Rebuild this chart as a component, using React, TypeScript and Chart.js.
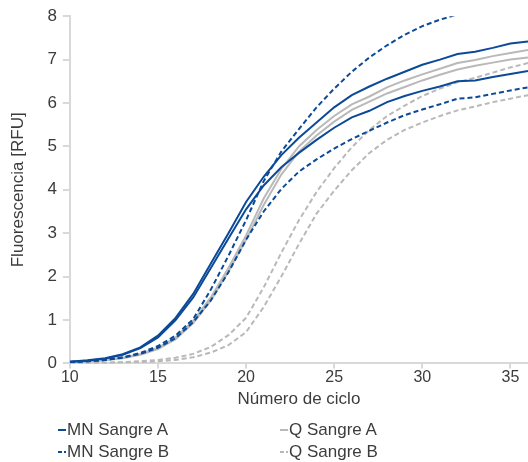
import React, { useEffect, useRef } from "react";
import { Chart, registerables } from "chart.js";

Chart.register(...registerables);

const cycles = [10, 11, 12, 13, 14, 15, 16, 17, 18, 19, 20, 21, 22, 23, 24, 25, 26, 27, 28, 29, 30, 31, 32, 33, 34, 35, 36];
const xTicks = [10, 15, 20, 25, 30, 35];
const yTicks = [0, 1, 2, 3, 4, 5, 6, 7, 8];

const mnA1 = [0.04, 0.07, 0.12, 0.21, 0.37, 0.64, 1.05, 1.6, 2.3, 3.0, 3.72, 4.3, 4.8, 5.2, 5.55, 5.9, 6.18, 6.38, 6.56, 6.72, 6.88, 7.0, 7.13, 7.18, 7.27, 7.37, 7.42];
const mnA2 = [0.04, 0.06, 0.11, 0.2, 0.35, 0.6, 1.0, 1.52, 2.2, 2.88, 3.55, 4.1, 4.52, 4.85, 5.15, 5.43, 5.67, 5.82, 6.02, 6.16, 6.28, 6.38, 6.5, 6.52, 6.6, 6.67, 6.74];
const mnB1 = [0.03, 0.05, 0.08, 0.14, 0.24, 0.4, 0.64, 1.02, 1.7, 2.48, 3.3, 4.2, 4.88, 5.4, 5.9, 6.33, 6.72, 7.05, 7.33, 7.57, 7.77, 7.92, 8.04, null, null, null, null];
const mnB2 = [0.03, 0.05, 0.08, 0.13, 0.22, 0.36, 0.58, 0.95, 1.45, 2.1, 2.85, 3.5, 4.02, 4.42, 4.7, 4.95, 5.17, 5.36, 5.55, 5.72, 5.85, 5.97, 6.1, 6.13, 6.21, 6.29, 6.36];
const qA1 = [0.03, 0.05, 0.08, 0.13, 0.22, 0.36, 0.6, 0.98, 1.52, 2.2, 2.95, 3.8, 4.48, 5.0, 5.38, 5.7, 5.97, 6.15, 6.36, 6.52, 6.66, 6.79, 6.92, 6.99, 7.08, 7.15, 7.22];
const qA2 = [0.03, 0.04, 0.07, 0.12, 0.2, 0.33, 0.56, 0.93, 1.45, 2.12, 2.85, 3.65, 4.35, 4.88, 5.25, 5.57, 5.84, 6.03, 6.22, 6.37, 6.52, 6.65, 6.77, 6.86, 6.93, 7.0, 7.05];
const qB1 = [0.0, 0.01, 0.02, 0.03, 0.05, 0.08, 0.13, 0.22, 0.38, 0.65, 1.05, 1.75, 2.55, 3.3, 3.95, 4.5, 4.98, 5.38, 5.7, 5.94, 6.16, 6.33, 6.48, 6.58, 6.7, 6.82, 6.92];
const qB2 = [0.0, 0.0, 0.01, 0.02, 0.03, 0.05, 0.08, 0.14, 0.25, 0.42, 0.72, 1.3, 2.0, 2.75, 3.45, 3.98, 4.45, 4.85, 5.15, 5.38, 5.55, 5.7, 5.83, 5.92, 6.02, 6.1, 6.18];

const BLUE = "#0c4a98";
const GRAY = "#b9b9b9";
const TEXT = "#3c3c3c";
const AXIS = "#d9d9d9";
const FONT = "'Liberation Sans', Arial, sans-serif";

const legendItems = [
  { label: "MN Sangre A", color: BLUE, dash: "", x: 58, y: 430 },
  { label: "Q Sangre A", color: GRAY, dash: "", x: 280, y: 430 },
  { label: "MN Sangre B", color: BLUE, dash: "4 2", x: 58, y: 452 },
  { label: "Q Sangre B", color: GRAY, dash: "4 2", x: 280, y: 452 },
];

function toPoints(values: (number | null)[]) {
  return cycles.map((c, i) => ({ x: c, y: values[i] }));
}

export default function App() {
  const ref = useRef<HTMLCanvasElement | null>(null);

  useEffect(() => {
    if (!ref.current) return;
    const mk = (label: string, data: (number | null)[], color: string, dashed: boolean) => ({
      label,
      data: toPoints(data),
      borderColor: color,
      backgroundColor: color,
      borderWidth: 2,
      borderDash: dashed ? [5, 3] : [],
      pointRadius: 0,
      tension: 0,
      fill: false,
      spanGaps: false,
    });
    const chart = new Chart(ref.current, {
      type: "line",
      data: {
        datasets: [
          mk("MN Sangre A", mnA1, BLUE, false),
          mk("MN Sangre A", mnA2, BLUE, false),
          mk("MN Sangre B", mnB1, BLUE, true),
          mk("MN Sangre B", mnB2, BLUE, true),
          mk("Q Sangre A", qA1, GRAY, false),
          mk("Q Sangre A", qA2, GRAY, false),
          mk("Q Sangre B", qB1, GRAY, true),
          mk("Q Sangre B", qB2, GRAY, true),
        ],
      },
      options: {
        responsive: false,
        animation: false,
        events: [],
        layout: { padding: { left: 4, right: 0, top: 15, bottom: 52 } },
        plugins: { legend: { display: false }, tooltip: { enabled: false } },
        scales: {
          x: {
            type: "linear",
            min: 10,
            max: 36,
            afterBuildTicks: (scale: any) => {
              scale.ticks = xTicks.map((v) => ({ value: v }));
            },
            grid: { drawOnChartArea: false, color: AXIS, tickLength: 5, lineWidth: 2 },
            border: { color: AXIS, width: 2 },
            ticks: { color: TEXT, font: { family: FONT, size: 16 }, padding: 0, maxRotation: 0 },
            title: {
              display: true,
              text: "Número de ciclo",
              color: TEXT,
              font: { family: FONT, size: 17 },
              padding: { top: 2, bottom: 0 },
            },
          },
          y: {
            type: "linear",
            min: 0,
            max: 8,
            afterBuildTicks: (scale: any) => {
              scale.ticks = yTicks.map((v) => ({ value: v }));
            },
            grid: { drawOnChartArea: false, color: AXIS, tickLength: 7, lineWidth: 2 },
            border: { color: AXIS, width: 2 },
            ticks: { color: TEXT, font: { family: FONT, size: 17 }, padding: 6 },
            title: {
              display: true,
              text: "Fluorescencia [RFU]",
              color: TEXT,
              font: { family: FONT, size: 17 },
              padding: { top: 4, bottom: 13 },
            },
          },
        },
      },
    } as any);
    return () => chart.destroy();
  }, []);

  return (
    <div style={{ position: "absolute", left: 0, top: 0, width: 528, height: 462, background: "#fff" }}>
      <canvas ref={ref} width={528} height={462} style={{ position: "absolute", left: 0, top: 0 }} />
      {legendItems.map((it) => (
        <div
          key={it.label}
          style={{
            position: "absolute",
            left: it.x,
            top: it.y - 10,
            height: 20,
            display: "flex",
            alignItems: "center",
            fontFamily: FONT,
            fontSize: 17,
            color: TEXT,
            whiteSpace: "nowrap",
          }}
        >
          <svg width={8} height={20} style={{ display: "block" }}>
            <line x1={0} y1={10} x2={8} y2={10} stroke={it.color} strokeWidth={2} strokeDasharray={it.dash || undefined} />
          </svg>
          <span style={{ marginLeft: 1 }}>{it.label}</span>
        </div>
      ))}
    </div>
  );
}
